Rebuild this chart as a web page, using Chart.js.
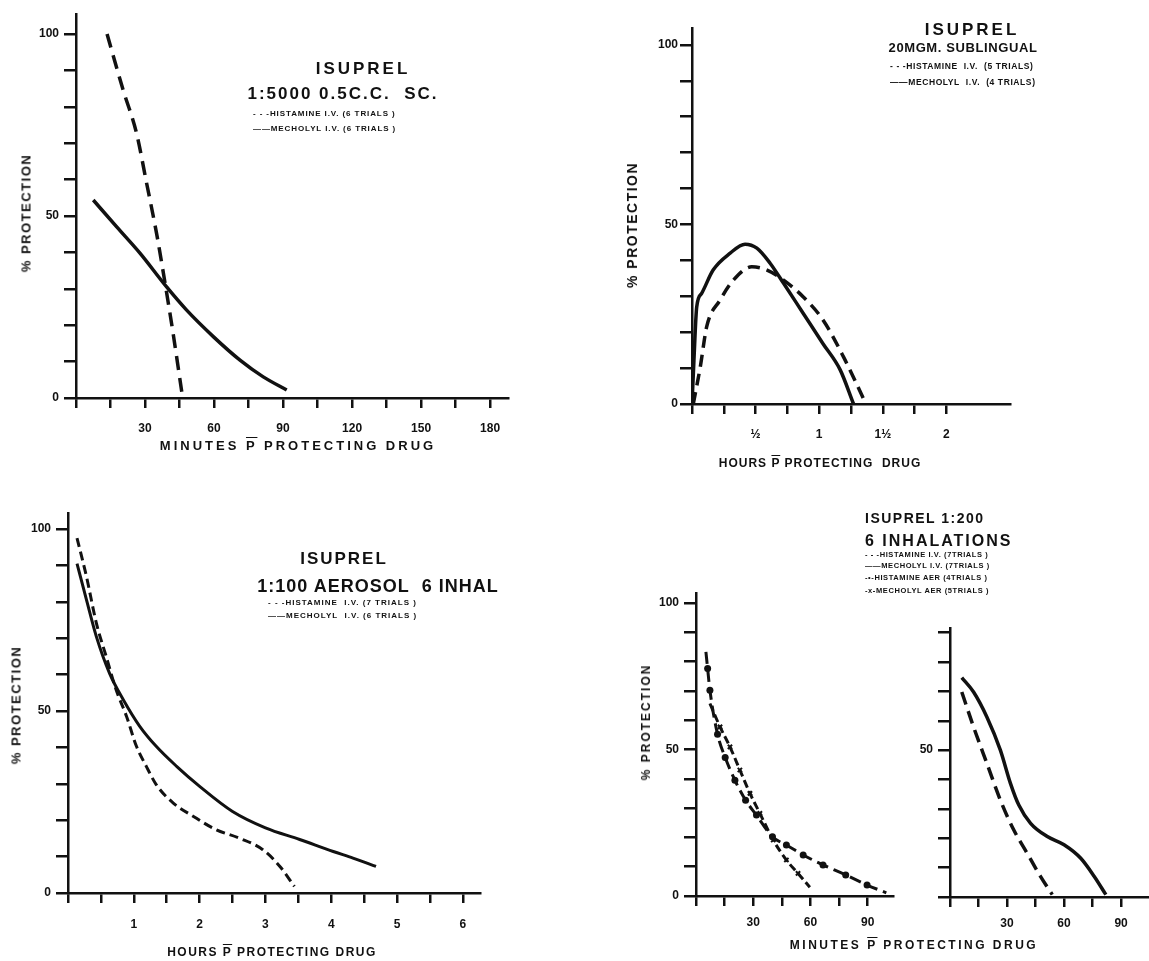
<!DOCTYPE html>
<html><head><meta charset="utf-8">
<script src="https://cdn.jsdelivr.net/npm/chart.js@4"></script>
<style>
body{margin:0;background:#fff;width:1149px;height:961px;position:relative;overflow:hidden;font-family:"Liberation Sans",Arial,sans-serif;color:#111}
canvas{position:absolute;left:0;top:0}
.t{position:absolute;white-space:nowrap;font-weight:bold;line-height:1}
.c{transform:translateX(-50%)}
.rot{transform:translate(-50%,-50%) rotate(-90deg)}
.ov{text-decoration:overline}
</style></head><body>
<canvas id="c1" width="1149" height="961"></canvas>
<canvas id="c2" width="1149" height="961"></canvas>
<canvas id="c3" width="1149" height="961"></canvas>
<canvas id="c4" width="1149" height="961"></canvas>
<canvas id="c5" width="1149" height="961"></canvas>

<!-- Panel 1 text -->
<div class="t c" style="left:363px;top:60px;font-size:17px;letter-spacing:3px">ISUPREL</div>
<div class="t c" style="left:343px;top:85px;font-size:17px;letter-spacing:2px">1:5000 0.5C.C.&nbsp; SC.</div>
<div class="t" style="left:253px;top:110px;font-size:8px;letter-spacing:0.9px">- - -HISTAMINE I.V. (6 TRIALS )</div>
<div class="t" style="left:253px;top:125px;font-size:8px;letter-spacing:0.9px">——MECHOLYL I.V. (6 TRIALS )</div>
<div class="t rot" style="left:26px;top:213px;font-size:13px;letter-spacing:1.5px">% PROTECTION</div>
<div class="t c" style="left:298px;top:439px;font-size:13px;letter-spacing:3px">MINUTES <span class="ov">P</span> PROTECTING DRUG</div>

<!-- Panel 2 text -->
<div class="t c" style="left:972px;top:21px;font-size:17px;letter-spacing:3px">ISUPREL</div>
<div class="t c" style="left:963px;top:41px;font-size:13px;letter-spacing:0.6px">20MGM. SUBLINGUAL</div>
<div class="t" style="left:890px;top:62px;font-size:8.5px;letter-spacing:0.6px">- - -HISTAMINE&nbsp; I.V.&nbsp; (5 TRIALS)</div>
<div class="t" style="left:890px;top:78px;font-size:8.5px;letter-spacing:0.6px">——MECHOLYL&nbsp; I.V.&nbsp; (4 TRIALS)</div>
<div class="t rot" style="left:632px;top:225px;font-size:14px;letter-spacing:1.5px">% PROTECTION</div>
<div class="t c" style="left:820px;top:457px;font-size:12px;letter-spacing:1px">HOURS <span class="ov">P</span> PROTECTING&nbsp; DRUG</div>

<!-- Panel 3 text -->
<div class="t c" style="left:344px;top:550px;font-size:17px;letter-spacing:2px">ISUPREL</div>
<div class="t c" style="left:378px;top:577px;font-size:18px;letter-spacing:1px">1:100 AEROSOL&nbsp; 6 INHAL</div>
<div class="t" style="left:268px;top:599px;font-size:8px;letter-spacing:1px">- - -HISTAMINE&nbsp; I.V. (7 TRIALS )</div>
<div class="t" style="left:268px;top:612px;font-size:8px;letter-spacing:1px">——MECHOLYL&nbsp; I.V. (6 TRIALS )</div>
<div class="t rot" style="left:16px;top:705px;font-size:13px;letter-spacing:1.5px">% PROTECTION</div>
<div class="t c" style="left:272px;top:946px;font-size:12px;letter-spacing:1.5px">HOURS <span class="ov">P</span> PROTECTING DRUG</div>

<!-- Panel 4/5 text -->
<div class="t" style="left:865px;top:511px;font-size:14px;letter-spacing:1.5px">ISUPREL 1:200</div>
<div class="t" style="left:865px;top:533px;font-size:16px;letter-spacing:2px">6 INHALATIONS</div>
<div class="t" style="left:865px;top:551px;font-size:7.5px;letter-spacing:0.6px">- - -HISTAMINE I.V. (7TRIALS )</div>
<div class="t" style="left:865px;top:562px;font-size:7.5px;letter-spacing:0.6px">——MECHOLYL I.V. (7TRIALS )</div>
<div class="t" style="left:865px;top:574px;font-size:7.5px;letter-spacing:0.6px">-•-HISTAMINE AER (4TRIALS )</div>
<div class="t" style="left:865px;top:587px;font-size:7.5px;letter-spacing:0.6px">-x-MECHOLYL AER (5TRIALS )</div>
<div class="t rot" style="left:646px;top:722px;font-size:12px;letter-spacing:2px">% PROTECTION</div>
<div class="t c" style="left:914px;top:939px;font-size:12px;letter-spacing:2.5px">MINUTES <span class="ov">P</span> PROTECTING DRUG</div>

<script>
// ---------- Panel 1: ISUPREL 1:5000 0.5 c.c. SC (minutes) ----------
const p1HistX = [13.5, 20.5, 26.3, 30.7, 35, 38.7, 42.2, 46];
const p1HistY = [100, 84.6, 72.8, 59, 45.3, 31.6, 17.8, 1.6];
const p1MechX = [7.5, 17.7, 27.8, 39.4, 48, 59.8, 71.3, 81.4, 91.6];
const p1MechY = [54.4, 47, 39.8, 30.5, 24.2, 16.8, 10.4, 5.8, 2.2];
const p1XTicks = [0, 15, 30, 45, 60, 75, 90, 105, 120, 135, 150, 165, 180];
const p1XLabels = ['', '', '30', '', '60', '', '90', '', '120', '', '150', '', '180'];

// ---------- Panel 2: ISUPREL 20 mgm sublingual (hours) ----------
const p2HistX = [0.01, 0.065, 0.116, 0.22, 0.325, 0.47, 0.59, 0.72, 0.875, 1.03, 1.19, 1.36];
const p2HistY = [0, 10.3, 21.6, 28.9, 34.5, 38.2, 37.3, 34.5, 29.8, 23.4, 13.2, 0.6];
const p2MechX = [0, 0.015, 0.037, 0.076, 0.166, 0.3, 0.417, 0.51, 0.614, 0.72, 0.875, 1.03, 1.165, 1.27];
const p2MechY = [0, 12, 27, 30.8, 37.3, 42, 44.5, 43.4, 39.2, 33.6, 25.2, 16.8, 9.5, 0];
const p2XTicks = [0, 0.25, 0.5, 0.75, 1, 1.25, 1.5, 1.75, 2];
const p2XLabels = ['', '', '½', '', '1', '', '1½', '', '2'];

// ---------- Panel 3: ISUPREL 1:100 aerosol 6 inhal (hours) ----------
const p3HistX = [0.137, 0.28, 0.43, 0.58, 0.73, 0.89, 1.04, 1.19, 1.34, 1.6, 1.9, 2.25, 2.6, 2.96, 3.22, 3.44];
const p3HistY = [97.5, 87, 74.2, 65, 55.9, 48.5, 40.3, 34.8, 29.8, 24.7, 21.1, 17.4, 15.1, 11.9, 7.3, 1.8];
const p3MechX = [0.137, 0.28, 0.43, 0.63, 0.84, 1.09, 1.34, 1.65, 2.0, 2.5, 3.0, 3.52, 4.03, 4.33, 4.68];
const p3MechY = [90.5, 80.6, 70.5, 60.4, 53.1, 45.8, 40.3, 34.8, 29.3, 22.4, 17.9, 14.7, 11.4, 9.6, 7.3];
const p3XTicks = [0, 0.5, 1, 1.5, 2, 2.5, 3, 3.5, 4, 4.5, 5, 5.5, 6];
const p3XLabels = ['', '', '1', '', '2', '', '3', '', '4', '', '5', '', '6'];

// ---------- Panel 4: ISUPREL 1:200 6 inhalations, aerosol challenge (minutes) ----------
const p4HistAerX = [5.2, 6.1, 7.3, 11.3, 15.3, 20.4, 26, 31.7, 40.1, 47.4, 56.2, 66.6, 78.5, 89.7, 99.8];
const p4HistAerY = [83.3, 77.6, 70.2, 55.2, 47.3, 39.5, 32.7, 27.6, 20.2, 17.4, 14, 10.6, 7.2, 3.75, 1.1];
const p4MechAerX = [7.3, 12.6, 17.8, 23, 28.3, 33.5, 40.5, 47.4, 53.5, 59.7];
const p4MechAerY = [65.7, 57.7, 50.9, 43, 35, 28.2, 19.1, 12.3, 7.7, 3];

// ---------- Panel 5: ISUPREL 1:200 6 inhalations, I.V. challenge (minutes) ----------
const p5HistX = [6.2, 12.4, 19.4, 26.5, 33.5, 40.6, 47.6, 53.8];
const p5HistY = [69.8, 57.9, 45.5, 33, 22.9, 14.9, 7, 0.8];
const p5MechX = [6.2, 12.4, 19.4, 26.5, 31.8, 36.2, 42.4, 51.2, 60, 68.8, 75.9, 82];
const p5MechY = [74.7, 69.8, 61.3, 50, 38.7, 31.3, 25.1, 20.6, 17.8, 13.2, 7, 0.8];

const minXTicks = [0, 15, 30, 45, 60, 75, 90];
const minXLabels = ['', '', '30', '', '60', '', '90'];
const yTicks100 = [0, 10, 20, 30, 40, 50, 60, 70, 80, 90, 100];
const yLabels100 = ['0', '', '', '', '', '50', '', '', '', '', '100'];
const yTicks90 = [0, 10, 20, 30, 40, 50, 60, 70, 80, 90];
const yLabels90 = ['', '', '', '', '', '50', '', '', '', ''];

const INK = '#111';
const FONT = {family: '"Liberation Sans", Arial, sans-serif', weight: 'bold', size: 12};
const pts = (xs, ys) => xs.map((x, i) => ({x, y: ys[i]}));

function line(xs, ys, opts) {
  return Object.assign({
    data: pts(xs, ys), borderColor: INK, backgroundColor: INK, borderWidth: 3.5,
    pointRadius: 0, fill: false, cubicInterpolationMode: 'monotone'
  }, opts || {});
}

function makeChart(id, area, xs, ys, datasets) {
  const W = 1149, H = 961, AX = 40;
  return new Chart(document.getElementById(id), {
    type: 'line',
    data: {datasets},
    options: {
      responsive: false, animation: false, events: [],
      layout: {padding: {left: area.l - AX, top: area.t, right: W - area.r, bottom: H - area.b - AX}},
      plugins: {legend: {display: false}, tooltip: {enabled: false}},
      scales: {
        x: {
          type: 'linear', min: xs.min, max: xs.max,
          afterFit: s => { s.height = AX; },
          afterBuildTicks: s => { s.ticks = xs.ticks.map(v => ({value: v})); },
          ticks: {autoSkip: false, maxRotation: 0, padding: xs.pad, color: INK, font: FONT,
                  callback: (v, i) => xs.labels[i]},
          grid: {drawOnChartArea: false, tickLength: 10, color: INK, lineWidth: 2.5},
          border: {color: INK, width: 2.5}
        },
        y: {
          type: 'linear', min: 0, max: ys.max,
          afterFit: s => { s.width = AX; },
          afterBuildTicks: s => { s.ticks = ys.ticks.map(v => ({value: v})); },
          ticks: {autoSkip: false, padding: ys.pad, color: INK, font: FONT,
                  callback: (v, i) => ys.labels[i]},
          grid: {drawOnChartArea: false, tickLength: 12, color: INK, lineWidth: 2.5},
          border: {color: INK, width: 2.5}
        }
      }
    }
  });
}

// Panel 1
makeChart('c1', {l: 76, r: 508, t: 14, b: 398},
  {min: 0, max: 187.8, ticks: p1XTicks, labels: p1XLabels, pad: 13},
  {max: 105.5, ticks: yTicks100, labels: yLabels100, pad: 5},
  [line(p1HistX, p1HistY, {borderDash: [14, 8]}), line(p1MechX, p1MechY)]);

// Panel 2
makeChart('c2', {l: 692, r: 1010, t: 28, b: 404},
  {min: 0, max: 2.5, ticks: p2XTicks, labels: p2XLabels, pad: 13},
  {max: 104.7, ticks: yTicks100, labels: yLabels100, pad: 2},
  [line(p2HistX, p2HistY, {borderDash: [12, 7]}), line(p2MechX, p2MechY)]);

// Panel 3
makeChart('c3', {l: 68, r: 480, t: 513, b: 893},
  {min: 0, max: 6.26, ticks: p3XTicks, labels: p3XLabels, pad: 14},
  {max: 104.4, ticks: yTicks100, labels: yLabels100, pad: 5},
  [line(p3HistX, p3HistY, {borderDash: [9, 5], borderWidth: 3}), line(p3MechX, p3MechY, {borderWidth: 3})]);

// Panel 4
makeChart('c4', {l: 696, r: 893, t: 593, b: 896},
  {min: 0, max: 103.3, ticks: minXTicks, labels: minXLabels, pad: 9},
  {max: 103.4, ticks: yTicks100, labels: yLabels100, pad: 5},
  [line(p4HistAerX, p4HistAerY, {borderDash: [12, 6], borderWidth: 3, pointStyle: 'circle',
      pointRadius: c => (c.dataIndex === 0 || c.dataIndex === p4HistAerX.length - 1) ? 0 : 3.5,
      pointBorderWidth: 0}),
   line(p4MechAerX, p4MechAerY, {borderDash: [8, 4], borderWidth: 3, pointStyle: 'crossRot',
      pointRadius: c => (c.dataIndex === 0 || c.dataIndex === p4MechAerX.length - 1) ? 0 : 3,
      pointBorderWidth: 2})]);

// Panel 5
makeChart('c5', {l: 950, r: 1149, t: 628, b: 897},
  {min: 0, max: 104.7, ticks: minXTicks, labels: minXLabels, pad: 9},
  {max: 91.6, ticks: yTicks90, labels: yLabels90, pad: 5},
  [line(p5HistX, p5HistY, {borderDash: [13, 7]}), line(p5MechX, p5MechY)]);
</script>
</body></html>
